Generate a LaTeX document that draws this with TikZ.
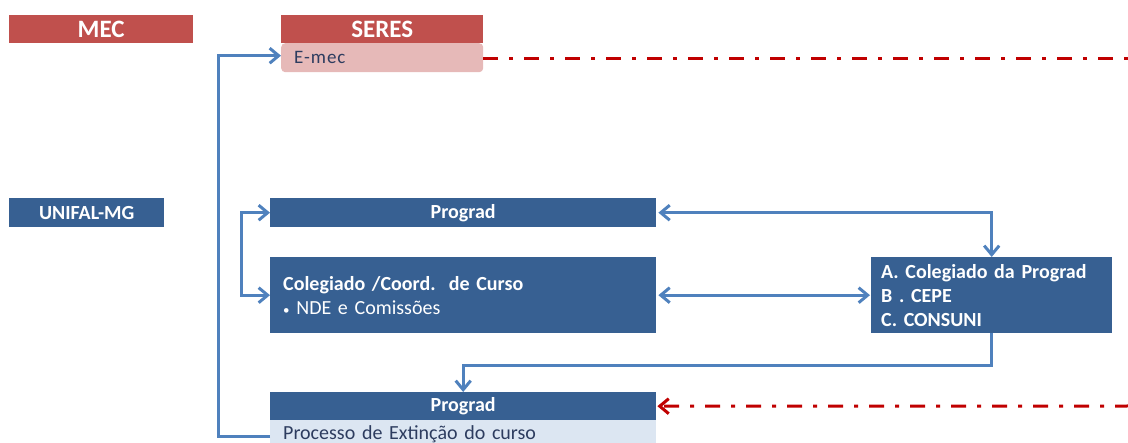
\documentclass[tikz,border=0pt]{standalone}
\usepackage{fontspec}
\setmainfont{Carlito}
\usepackage{tikz}
\usetikzlibrary{arrows.meta}
\definecolor{mecred}{RGB}{192, 80, 77}
\definecolor{emecpink}{RGB}{230, 185, 184}
\definecolor{boxblue}{RGB}{55, 96, 146}
\definecolor{lineblue}{RGB}{79, 129, 189}
\definecolor{lightblue}{RGB}{220, 230, 242}
\definecolor{dashred}{RGB}{192, 0, 0}
\definecolor{darktext}{RGB}{45, 60, 95}
\tikzset{>={Straight Barb[length = 9pt, width = 15pt]}}

\begin{document}
\begin{tikzpicture}[x = 1pt, y = -1pt,
  header/.style = {fill = mecred, text = white, inner sep = 0, anchor = north west,
    font = \fontsize{25}{28}\selectfont\bfseries},
  bluebox/.style = {fill = boxblue, text = white, inner sep = 0, anchor = north west,
    font = \fontsize{20}{24}\selectfont\bfseries},
  flow/.style = {lineblue, line width = 3pt},
  redflow/.style = {dashred, line width = 3pt, dash pattern = on 15pt off 11pt on 4pt off 11pt}]
\useasboundingbox (0, 0) rectangle (1128, 443);

% headers
\node[header, minimum width = 184pt, minimum height = 28pt] (mec) at (9, 15) {MEC};
\node[header, minimum width = 202pt, minimum height = 28pt] (seres) at (281, 15) {SERES};
\node[fill = emecpink, text = darktext, rounded corners = 4pt, anchor = north west,
  text width = 176pt, inner xsep = 13pt, inner ysep = 0, minimum height = 29pt, align = left,
  font = \fontsize{19}{22}\selectfont\addfontfeature{LetterSpace = 5}] (emec) at (281, 43) {\raisebox{-2pt}{E-mec}};
\node[bluebox, minimum width = 155pt, minimum height = 29pt] (unifal) at (9, 198) {UNIFAL-MG};

% boxes
\node[bluebox, minimum width = 386pt, minimum height = 29pt] (prograd) at (270, 198) {Prograd};
\node[bluebox, text width = 360pt, inner xsep = 13pt, minimum height = 76pt, align = left] (colegiado) at (270, 257) {
Colegiado /Coord.~~de Curso \\
{\mdseries{\fontsize{13}{13}\selectfont\textbullet} NDE e Comissões}
};
\node[bluebox, text width = 221pt, inner xsep = 10pt, minimum height = 76pt, align = left] (conselhos) at (871, 257) {
A. Colegiado da Prograd \\
B . CEPE \\
C. CONSUNI
};
\node[bluebox, minimum width = 386pt, minimum height = 28pt] (prograd2) at (270, 392) {Prograd};
\node[fill = lightblue, text = darktext, anchor = north west, text width = 360pt, inner xsep = 13pt,
  inner ysep = 0, minimum height = 29pt, align = left,
  font = \fontsize{20}{24}\selectfont] (extincao) at (270, 420) {Processo de Extinção do curso};

\coordinate (edge1) at (1130, 59);
\coordinate (edge2) at (1130, 406);

% connectors
\draw[flow, ->] ([yshift = -1.5pt]extincao.west) -- ++(-52, 0) |- ([yshift = 2pt]emec.west);
\draw[flow, <->] (prograd.west) -- ++(-29, 0) |- (colegiado.west);
\draw[flow, <->, shorten < = 2pt] (prograd.east) -| (conselhos.north);
\draw[flow, <->, shorten < = 2pt, shorten > = 1pt] (colegiado.east) -- (conselhos.west);
\draw[flow, ->] (conselhos.south) -- ++(0, 32) -| (prograd2.north);
\draw[redflow] (emec.east |- edge1) -- (edge1);
\draw[redflow, ->, shorten > = 1pt] (edge2) -- (prograd2.east);

\end{tikzpicture}
\end{document}
